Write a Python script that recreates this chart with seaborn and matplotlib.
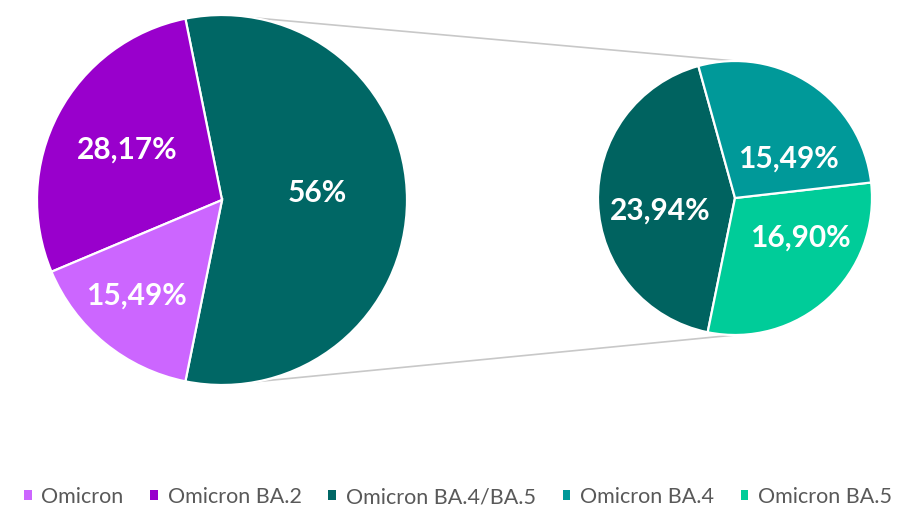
import numpy as np
import matplotlib.pyplot as plt
import seaborn as sns

# data
main_labels = ["Omicron", "Omicron BA.2", "Omicron BA.4/BA.5"]
main_values = [15.49, 28.17, 56.34]
main_texts = ["15,49%", "28,17%", "56%"]

sub_labels = ["Omicron BA.4/BA.5 (outros)", "Omicron BA.4", "Omicron BA.5"]
sub_values = [23.94, 15.49, 16.90]
sub_texts = ["23,94%", "15,49%", "16,90%"]

legend_order = ["Omicron", "Omicron BA.2", "Omicron BA.4/BA.5", "Omicron BA.4", "Omicron BA.5"]

colors = {
    "Omicron": "#CC66FF",
    "Omicron BA.2": "#9900CC",
    "Omicron BA.4/BA.5": "#006765",
    "Omicron BA.4/BA.5 (outros)": "#006360",
    "Omicron BA.4": "#009999",
    "Omicron BA.5": "#00CC99",
}

sns.set_theme(style="white")
plt.rcParams['font.family'] = ['Lato', 'DejaVu Sans']

fig = plt.figure(figsize=(9.16, 5.11), dpi=100)
ax = fig.add_axes([0, 0, 1, 1])

# layout (pixel units, y up)
lc, lr = (222, 311), 185
rc, rr = (735, 313), 137
wedge_kw = dict(edgecolor='white', linewidth=1.6)

# main pie: big slice centred on the right
order = [2, 1, 0]
big_share = main_values[2] / sum(main_values)
w_main, _ = ax.pie([main_values[i] for i in order], center=lc, radius=lr,
                   colors=[colors[main_labels[i]] for i in order],
                   startangle=-180 * big_share, counterclock=True,
                   wedgeprops=wedge_kw, frame=True)

# secondary pie: "other" slice centred on the left
sorder = [0, 2, 1]
other_share = sub_values[0] / sum(sub_values)
w_sub, _ = ax.pie([sub_values[i] for i in sorder], center=rc, radius=rr,
                  colors=[colors[sub_labels[i]] for i in sorder],
                  startangle=182 - 180 * other_share, counterclock=True,
                  wedgeprops=wedge_kw, frame=True)
ax.set_xlim(0, 916)
ax.set_ylim(0, 511)
ax.set_aspect('equal')
ax.axis('off')

def put_labels(wedges, idx, texts, c, r, frac, nudges):
    for w, i in zip(wedges, idx):
        mid = np.deg2rad((w.theta1 + w.theta2) / 2)
        dx, dy = nudges[i]
        x = c[0] + frac * r * np.cos(mid) + dx
        y = c[1] + frac * r * np.sin(mid) + dy
        ax.text(x, y, texts[i], ha='center', va='center_baseline', color='white',
                fontsize=21.5, fontweight='bold')

put_labels(w_main, order, main_texts, lc, lr, 0.6, [(-15, -7), (3, 1), (-16, 10)])
put_labels(w_sub, sorder, sub_texts, rc, rr, 0.55, [(0, -7), (11, -21), (14, 18)])

# connector lines
ax.plot([lc[0], rc[0]], [lc[1] + lr, rc[1] + rr], color='#C8C8C8', lw=1.2, zorder=0)
ax.plot([lc[0], rc[0]], [lc[1] - lr, rc[1] - rr], color='#C8C8C8', lw=1.2, zorder=0)

# legend
handles = {}
for w, i in zip(w_main, order):
    handles[main_labels[i]] = w
for w, i in zip(w_sub, sorder):
    handles[sub_labels[i]] = w
leg = fig.legend([handles[l] for l in legend_order], legend_order, loc='center',
                 bbox_to_anchor=(0.5, 1 - 497 / 511), ncol=5, frameon=False,
                 fontsize=15.5, handlelength=0.35, handleheight=0.35,
                 handletextpad=0.45, columnspacing=1.25)
for t in leg.get_texts():
    t.set_color('#595959')
for h in leg.legend_handles:
    h.set_edgecolor('none')

fig.savefig('out.png', dpi=100)
